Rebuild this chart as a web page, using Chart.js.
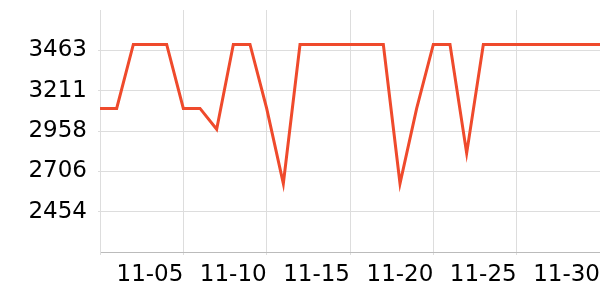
<!DOCTYPE html>
<html>
<head>
<meta charset="utf-8">
<script src="https://cdn.jsdelivr.net/npm/chart.js@4.4.1/dist/chart.umd.min.js"></script>
<style>
html,body{margin:0;padding:0;background:#fff;}
#wrap{width:600px;height:300px;}
</style>
</head>
<body>
<div id="wrap"><canvas id="c" width="600" height="300"></canvas></div>
<script>
const categories = ["10-31","11-01","11-02","11-03","11-04","11-05","11-06","11-07","11-08","11-09","11-10","11-11","11-12","11-13","11-14","11-15","11-16","11-17","11-18","11-19","11-20","11-21","11-22","11-23","11-24","11-25","11-26","11-27","11-28","11-29","11-30"];
const values = [3100,3100,3500,3500,3500,3100,3100,2970,3500,3500,3100,2630,3500,3500,3500,3500,3500,3500,2630,3100,3500,3500,2820,3500,3500,3500,3500,3500,3500,3500,3500];
const yTicks = [2454,2706,2958,3211,3463];
const yMin = 2201.75;
const yMax = 3715.5;

const FONT = "'DejaVu Sans', sans-serif";
new Chart(document.getElementById('c'), {
  type: 'line',
  data: {
    labels: categories,
    datasets: [{
      data: values,
      borderColor: '#ef4a2c',
      borderWidth: 3,
      pointRadius: 0,
      fill: false,
      tension: 0
    }]
  },
  options: {
    responsive: false,
    animation: false,
    layout: { padding: { top: 10, right: 0, left: 0, bottom: 0 } },
    plugins: { legend: { display: false }, tooltip: { enabled: false } },
    scales: {
      x: {
        offset: false,
        afterBuildTicks: (s) => { s.ticks = s.ticks.filter(t => t.value % 5 === 0); },
        afterFit: (s) => { s.height = 48; s.paddingLeft = 0; s.paddingRight = 0; },
        grid: { color: '#dddddd', lineWidth: 1, tickLength: 3, drawTicks: true },
        border: { color: '#bbbbbb' },
        ticks: {
          autoSkip: false, maxRotation: 0, minRotation: 0, align: 'end', padding: 6,
          color: '#000', font: { family: FONT, size: 23 },
          callback: function(v) { return v === 0 ? '' : this.getLabelForValue(v); }
        }
      },
      y: {
        min: yMin, max: yMax,
        afterBuildTicks: (s) => { s.ticks = yTicks.map(v => ({ value: v })); },
        afterFit: (s) => { s.width = 100; s.paddingTop = 0; s.paddingBottom = 0; },
        grid: { color: '#dddddd', lineWidth: 1, tickLength: 2 },
        border: { color: '#dddddd' },
        ticks: {
          padding: 11, color: '#000', font: { family: FONT, size: 23 },
          callback: (v) => String(v)
        }
      }
    }
  }
});
</script>
</body>
</html>
